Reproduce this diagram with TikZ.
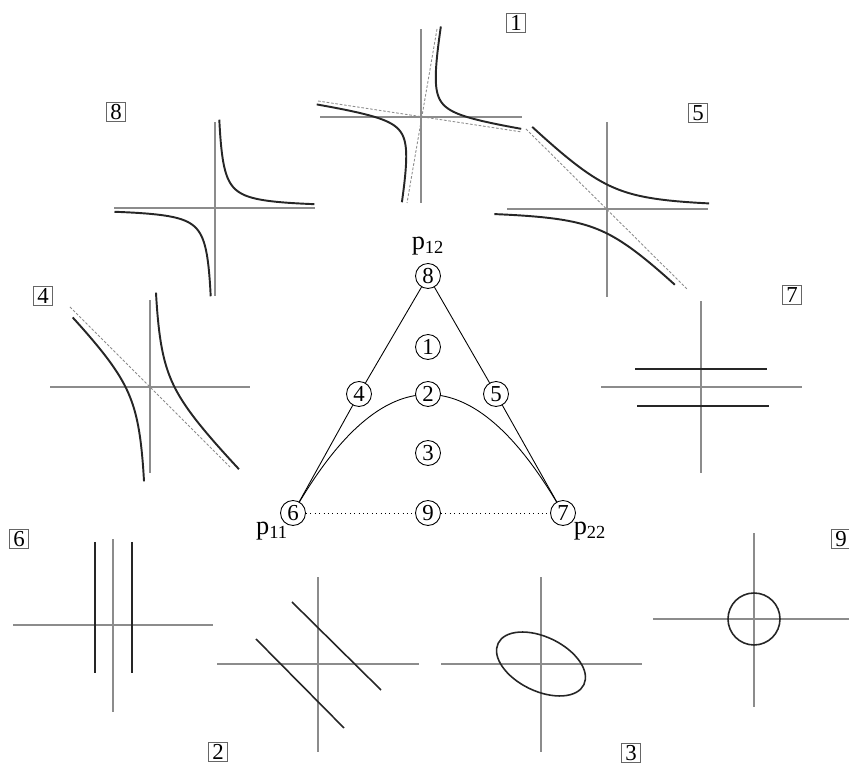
\documentclass[tikz,border=0pt]{standalone}
\usepackage{fontspec}
\setmainfont{Liberation Serif}
\usepackage{tikz}
\usetikzlibrary{calc, backgrounds}

\tikzset{
  axis/.style={draw=black!45, line width=0.6pt},
  curve/.style={draw=black!85, line width=1.1pt},
  asym/.style={draw=black!45, line width=0.5pt, dash pattern=on 1.5pt off 1pt},
  tag/.style={draw=black!60, line width=0.4pt, rectangle, minimum size=0.39cm, inner sep=0.5pt, font=\fontsize{13}{15}\selectfont},
  pt/.style={draw, circle, fill=white, line width=0.5pt, minimum size=0.5cm, inner sep=0pt, font=\fontsize{13}{15}\selectfont},
  plab/.style={font=\fontsize{15}{17}\selectfont},
  edge/.style={line width=0.5pt}
}

\begin{document}
\begin{tikzpicture}[x=0.02cm, y=0.02cm]
  \useasboundingbox (0,0) rectangle (849,764);

  % case labels
  \node[tag] (t1) at (516,741) {1};
  \node[tag] (t8) at (116,652) {8};
  \node[tag] (t5) at (698,651) {5};
  \node[tag] (t4) at (43,468) {4};
  \node[tag] (t7) at (792,469) {7};
  \node[tag] (t6) at (19,225) {6};
  \node[tag] (t9) at (841,225) {9};
  \node[tag] (t2) at (218,12) {2};
  \node[tag] (t3) at (631,11) {3};

  % 1
  \begin{scope}[shift={(421,647)}]
    \draw[axis] (-101,0) -- (101,0);
    \draw[axis] (0,-86) -- (0,88);
    \draw[asym] (16,88) -- (-14,-86);
    \draw[asym] (-103,16) -- (101,-15);
    \draw[curve] plot[domain=-1.75:1.66, samples=80, smooth, variable=\w]
      ({0.182*17.32*exp(\w) + 17.32*exp(-\w)}, {17.32*exp(\w) - 0.149*17.32*exp(-\w)});
    \draw[curve] plot[domain=-1.79:1.60, samples=80, smooth, variable=\w]
      ({-0.182*17.32*exp(\w) - 17.32*exp(-\w)}, {-17.32*exp(\w) + 0.149*17.32*exp(-\w)});
  \end{scope}

  % 8
  \begin{scope}[shift={(215,556)}]
    \draw[axis] (-101,0) -- (100,0);
    \draw[axis] (0,-88) -- (0,86);
    \draw[curve] plot[domain=-1.51:1.63, samples=80, smooth, variable=\w]
      ({19.5*exp(\w)}, {19.5*exp(-\w)});
    \draw[curve] plot[domain=-1.51:1.64, samples=80, smooth, variable=\w]
      ({-19.5*exp(\w)}, {-19.5*exp(-\w)});
  \end{scope}

  % 5
  \begin{scope}[shift={(607,555)}]
    \draw[axis] (-100,0) -- (101,0);
    \draw[axis] (0,-88) -- (0,87);
    \draw[asym] (-81,80) -- (80,-80);
    \draw[curve] plot[domain=-1.48:1.21, samples=80, smooth, variable=\w]
      ({24.5*exp(-\w) - 24.5*exp(\w)}, {24.5*exp(\w)});
    \draw[curve] plot[domain=-1.57:1.13, samples=80, smooth, variable=\w]
      ({24.5*exp(\w) - 24.5*exp(-\w)}, {-24.5*exp(\w)});
  \end{scope}

  % 4
  \begin{scope}[shift={(150,377)}]
    \draw[axis] (-100,0) -- (100,0);
    \draw[axis] (0,-86) -- (0,87);
    \draw[asym] (-80,80) -- (80,-80);
    \draw[curve] plot[domain=-1.41:1.29, samples=80, smooth, variable=\w]
      ({24.5*exp(\w)}, {24.5*exp(-\w) - 24.5*exp(\w)});
    \draw[curve] plot[domain=-1.41:1.15, samples=80, smooth, variable=\w]
      ({-24.5*exp(\w)}, {24.5*exp(\w) - 24.5*exp(-\w)});
  \end{scope}

  % 7
  \begin{scope}[shift={(701,377)}]
    \draw[axis] (-100,0) -- (101,0);
    \draw[axis] (0,-86) -- (0,86);
    \draw[curve] (-66,18) -- (66,18);
    \draw[curve] (-64,-19) -- (68,-19);
  \end{scope}

  % 6
  \begin{scope}[shift={(113,139)}]
    \draw[axis] (-100,0) -- (100,0);
    \draw[axis] (0,-87) -- (0,86);
    \draw[curve] (-18,83) -- (-18,-48);
    \draw[curve] (19,83) -- (19,-48);
  \end{scope}

  % 2
  \begin{scope}[shift={(318,100)}]
    \draw[axis] (-101,0) -- (101,0);
    \draw[axis] (0,-88) -- (0,87);
    \draw[curve, line width=0.9pt] (-26,62) -- (63,-26);
    \draw[curve, line width=0.9pt] (-62,25) -- (26,-64);
  \end{scope}

  % 3
  \begin{scope}[shift={(541,100)}]
    \draw[axis] (-100,0) -- (101,0);
    \draw[axis] (0,-88) -- (0,87);
    \draw[curve, line width=0.9pt, rotate=-25.7] (0,0) ellipse [x radius=47.6, y radius=27.1];
  \end{scope}

  % 9
  \begin{scope}[shift={(754,145)}]
    \draw[axis] (-101,0) -- (96,0);
    \draw[axis] (0,-88) -- (0,86);
    \draw[curve, line width=0.9pt] (0,0) circle [radius=26];
  \end{scope}

  % triangle
  \node[pt] (n8) at (428,488) {8};
  \node[pt] (n1) at (428,417) {1};
  \node[pt] (n4) at (359,370) {4};
  \node[pt] (n2) at (428,370) {2};
  \node[pt] (n5) at (496,370) {5};
  \node[pt] (n3) at (428,311) {3};
  \node[pt] (n6) at (293,251) {6};
  \node[pt] (n9) at (428,251) {9};
  \node[pt] (n7) at (563,251) {7};
  \node[plab] (p12) at (428,518) {p\textsubscript{12}};
  \node[plab] (p11) at (272,233) {p\textsubscript{11}};
  \node[plab] (p22) at (590,233) {p\textsubscript{22}};

  \draw[edge] (n8) -- (n4) -- (n6);
  \draw[edge] (n8) -- (n5) -- (n7);
  \draw[edge, dotted] (n6) -- (n9) -- (n7);
  \begin{scope}[on background layer]
    \draw[edge] (n6.center) .. controls ($(n6.center)!2/3!(n8.center)$) and ($(n7.center)!2/3!(n8.center)$) .. (n7.center);
  \end{scope}
\end{tikzpicture}
\end{document}
